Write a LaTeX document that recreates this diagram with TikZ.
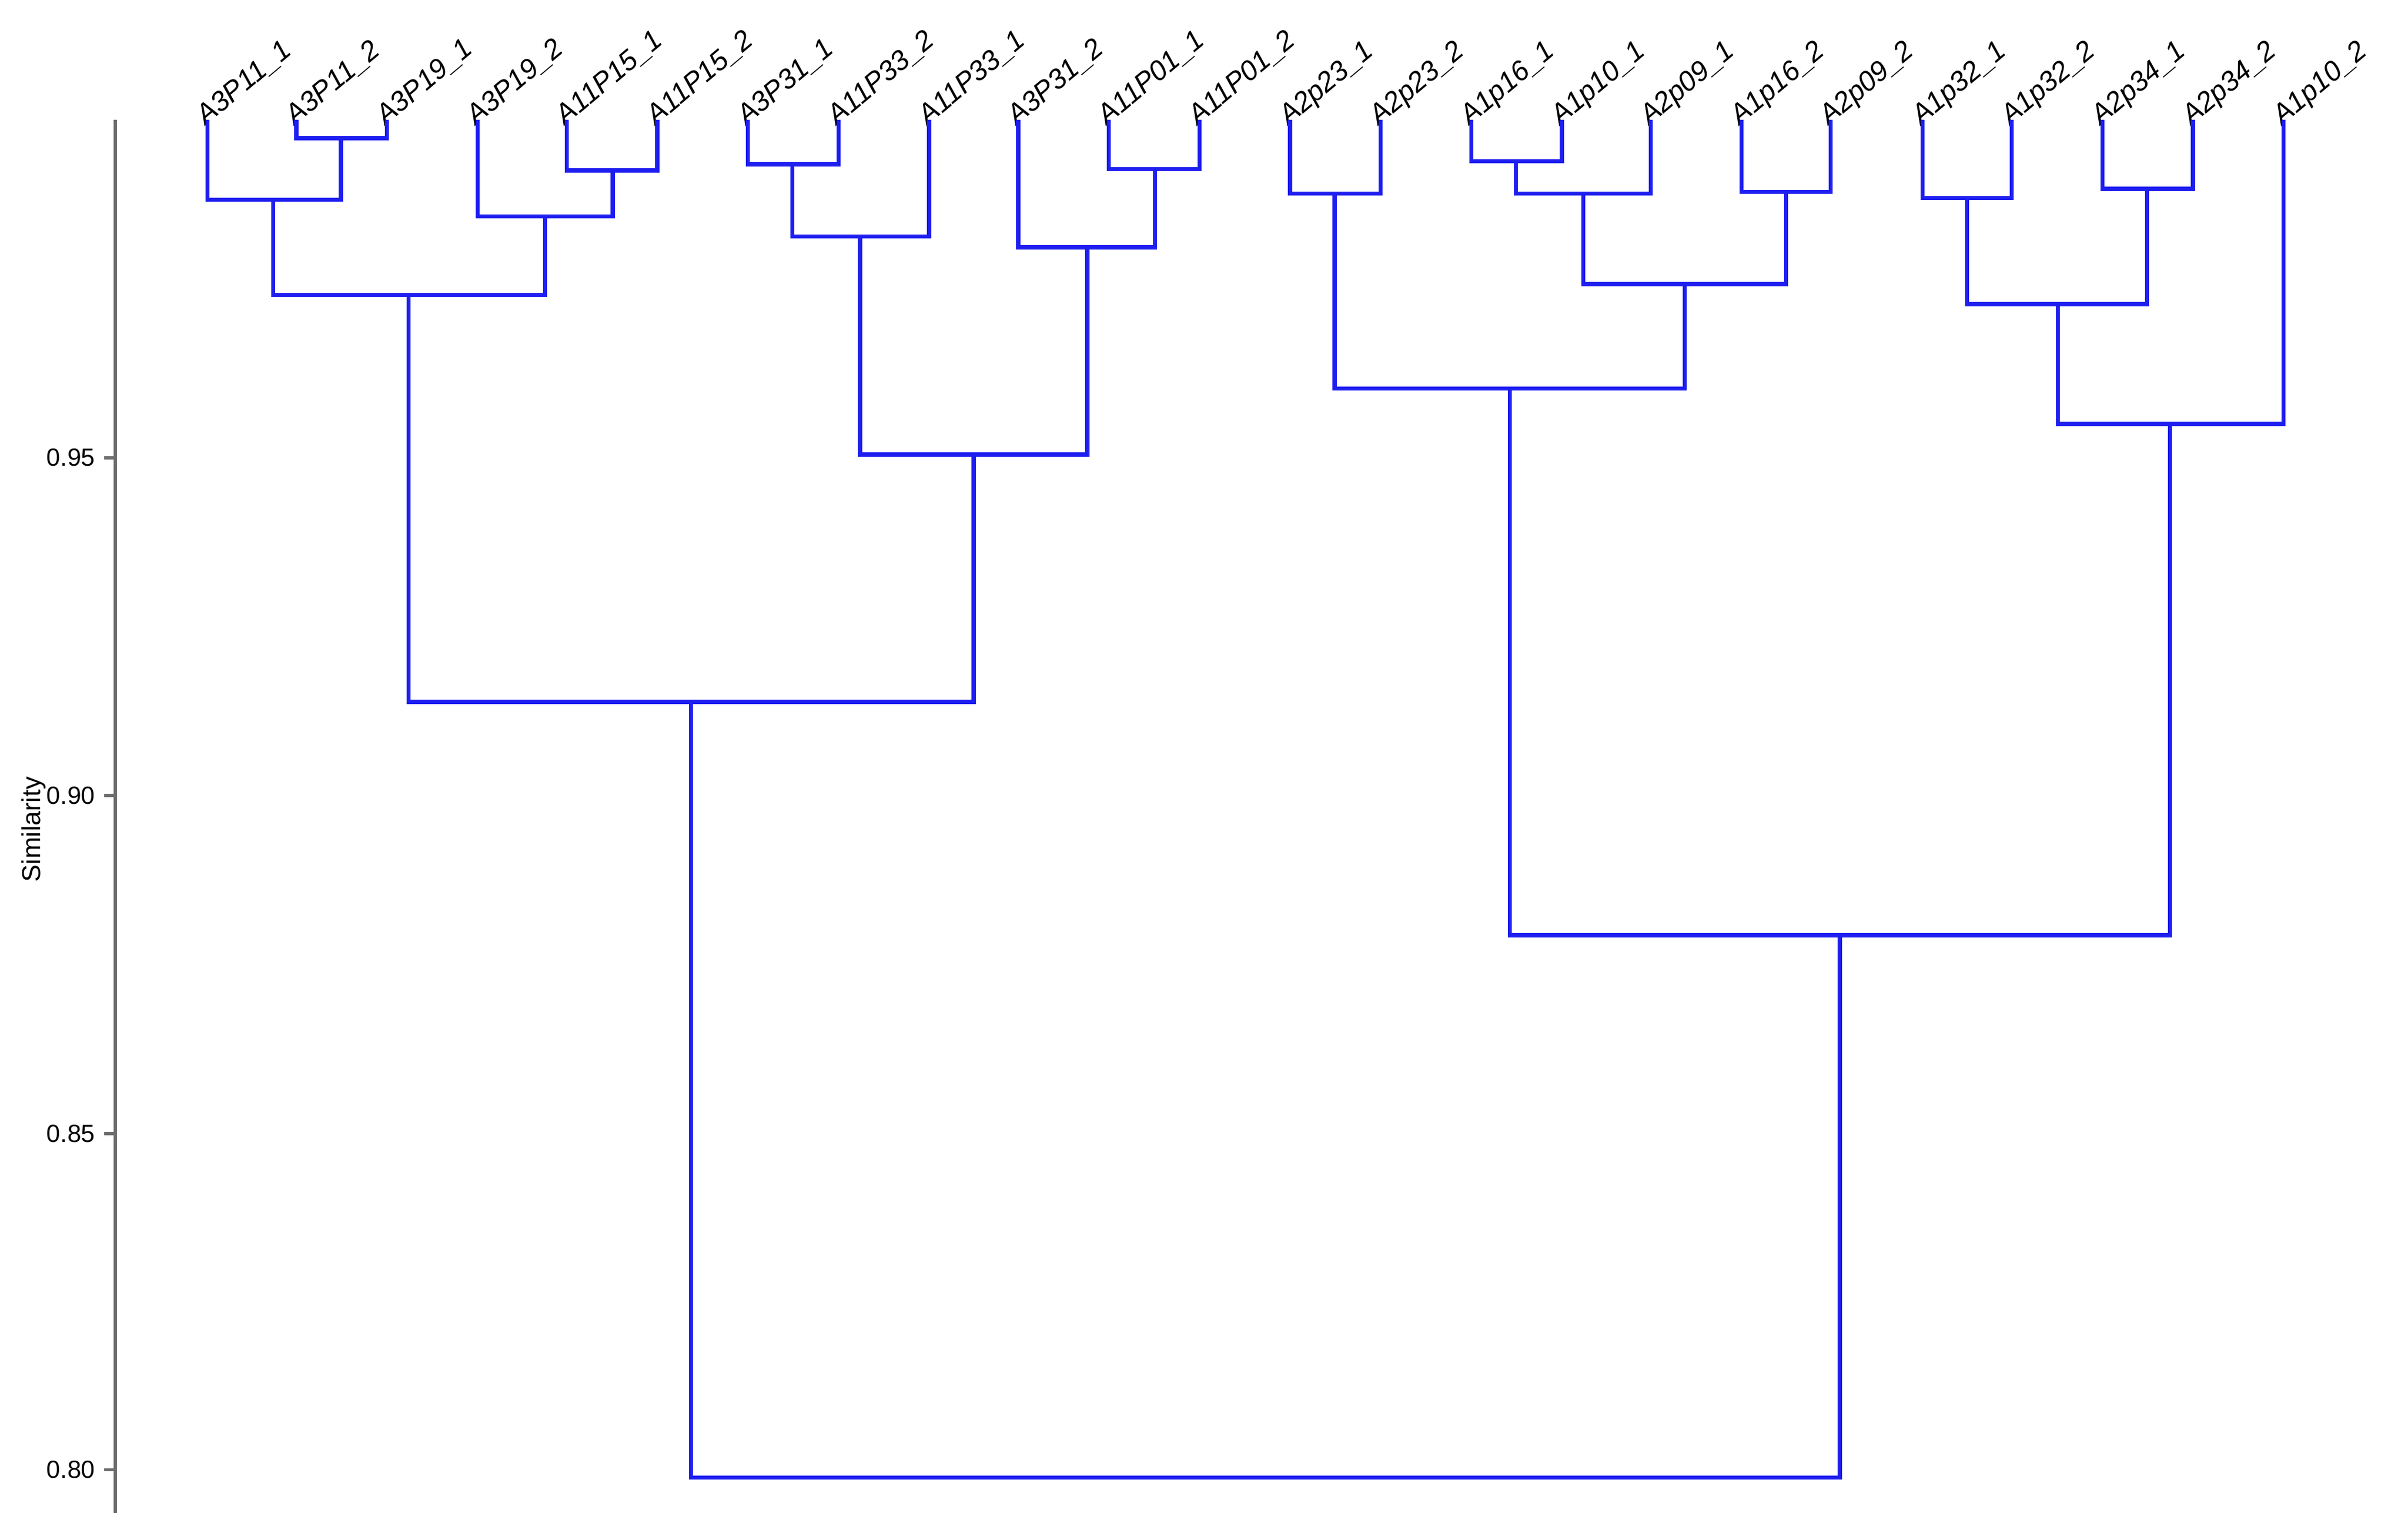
\documentclass[tikz,border=0pt]{standalone}
\usepackage{fontspec}
\setmainfont{Liberation Sans}
\begin{document}
\begin{tikzpicture}[x=1mm,y=-1mm,
  dend/.style={draw={rgb,255:red,30;green,30;blue,240},line width=7.5pt},
  axis/.style={draw={rgb,255:red,110;green,110;blue,110},line width=6pt},
  leaflab/.style={rotate=40,anchor=base west,inner sep=0pt,font=\fontsize{52}{60}\selectfont\itshape},
  ticklab/.style={anchor=east,inner sep=0pt,font=\fontsize{46}{54}\selectfont}]
\useasboundingbox (0,0) rectangle (1568,998);
\newcommand{\mrg}[5]{\path[dend] (#1,#2) -- (#1,#5) -- (#3,#5) -- (#3,#4);}
% axis
\path[axis] (75,78) -- (75,985);
\foreach \y/\l in {298/0.95,518/0.90,738/0.85,957/0.80}{
  \path[axis] (68,\y) -- (75,\y);
  \node[ticklab] at (62,\y) {\l};
}
\node[rotate=90,font=\fontsize{48}{56}\selectfont] at (22,540) {Similarity};
% labels
\foreach \x/\t in {135/A3P11\_1,193/A3P11\_2,252/A3P19\_1,311/A3P19\_2,369/A11P15\_1,428/A11P15\_2,487/A3P31\_1,546/A11P33\_2,605/A11P33\_1,663/A3P31\_2,722/A11P01\_1,781/A11P01\_2,840/A2p23\_1,899/A2p23\_2,958/A1p16\_1,1017/A1p10\_1,1075/A2p09\_1,1134/A1p16\_2,1192/A2p09\_2,1252/A1p32\_1,1310/A1p32\_2,1369/A2p34\_1,1428/A2p34\_2,1487/A1p10\_2}{
  \node[leaflab] at (\x-1,82) {\t};
}
% merges
\mrg{193}{78}{252}{78}{90}
\mrg{135}{78}{222}{90}{130}
\mrg{369}{78}{428}{78}{111}
\mrg{311}{78}{399}{111}{141}
\mrg{178}{130}{355}{141}{192}
\mrg{487}{78}{546}{78}{107}
\mrg{516}{107}{605}{78}{154}
\mrg{722}{78}{781}{78}{110}
\mrg{663}{78}{752}{110}{161}
\mrg{560}{154}{708}{161}{296}
\mrg{266}{192}{634}{296}{457}
\mrg{840}{78}{899}{78}{126}
\mrg{958}{78}{1017}{78}{105}
\mrg{987}{105}{1075}{78}{126}
\mrg{1134}{78}{1192}{78}{125}
\mrg{1031}{126}{1163}{125}{185}
\mrg{869}{126}{1097}{185}{253}
\mrg{1252}{78}{1310}{78}{129}
\mrg{1369}{78}{1428}{78}{123}
\mrg{1281}{129}{1398}{123}{198}
\mrg{1340}{198}{1487}{78}{276}
\mrg{983}{253}{1413}{276}{609}
\mrg{450}{457}{1198}{609}{962}
\end{tikzpicture}
\end{document}
